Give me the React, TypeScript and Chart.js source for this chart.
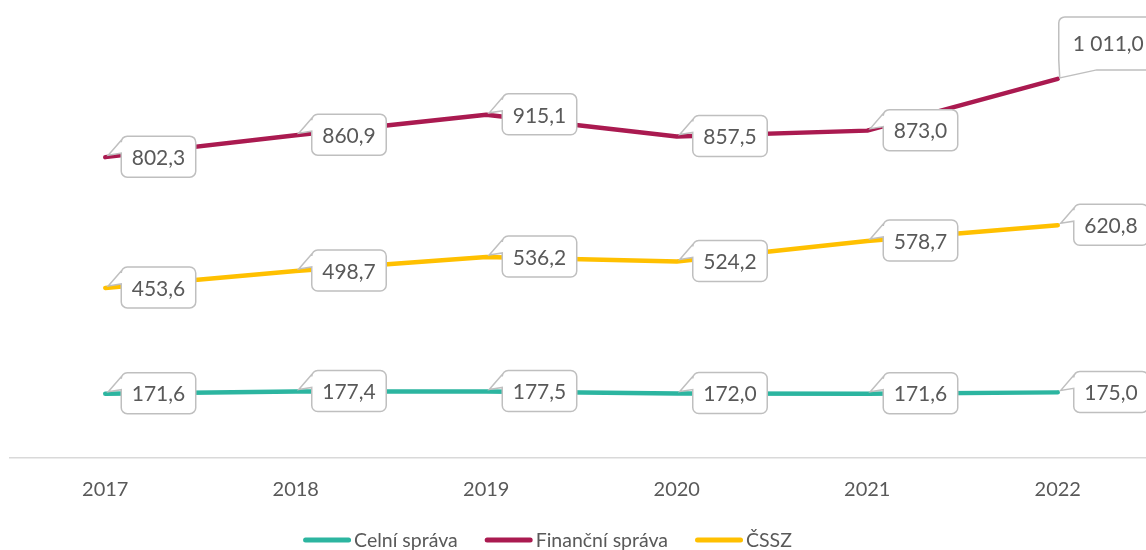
import React, { useEffect, useRef } from "react";
import { Chart, registerables } from "chart.js";

Chart.register(...registerables);

const years = ["2017", "2018", "2019", "2020", "2021", "2022"];
const celniSprava = [171.6, 177.4, 177.5, 172.0, 171.6, 175.0];
const financniSprava = [802.3, 860.9, 915.1, 857.5, 873.0, 1011.0];
const cssz = [453.6, 498.7, 536.2, 524.2, 578.7, 620.8];
const seriesNames = ["Celní správa", "Finanční správa", "ČSSZ"];
const seriesColors = ["#2CB5A0", "#AA1A50", "#FFC000"];

const FONT = "Lato, 'Open Sans', sans-serif";
const TEXT_COLOR = "#595959";

function fmt(v: number): string {
  const fixed = v.toFixed(1);
  const [intPart, dec] = fixed.split(".");
  const withSpaces = intPart.replace(/\B(?=(\d{3})+(?!\d))/g, " ");
  return withSpaces + "," + dec;
}

function calloutLeft(ctx: CanvasRenderingContext2D, l: number, t: number, w: number, h: number, r: number, tipX: number, tipY: number) {
  const rt = l + w, b = t + h;
  ctx.beginPath();
  ctx.moveTo(l + r, t);
  ctx.lineTo(rt - r, t);
  ctx.arcTo(rt, t, rt, t + r, r);
  ctx.lineTo(rt, b - r);
  ctx.arcTo(rt, b, rt - r, b, r);
  ctx.lineTo(l + r, b);
  ctx.arcTo(l, b, l, b - r, r);
  ctx.lineTo(l, t + 17);
  ctx.lineTo(tipX, tipY);
  ctx.lineTo(l, t + 4);
  ctx.arcTo(l, t, l + r, t, r);
  ctx.closePath();
}

function calloutBottom(ctx: CanvasRenderingContext2D, l: number, t: number, w: number, h: number, r: number, tipX: number, tipY: number) {
  const rt = l + w, b = t + h;
  ctx.beginPath();
  ctx.moveTo(l + r, t);
  ctx.lineTo(rt - r, t);
  ctx.arcTo(rt, t, rt, t + r, r);
  ctx.lineTo(rt, b - r);
  ctx.arcTo(rt, b, rt - r, b, r);
  ctx.lineTo(l + 38, b);
  ctx.lineTo(tipX, tipY);
  ctx.lineTo(l, b - 10);
  ctx.lineTo(l, t + r);
  ctx.arcTo(l, t, l + r, t, r);
  ctx.closePath();
}

const calloutPlugin = {
  id: "callouts",
  afterDatasetsDraw(chart: any) {
    const ctx: CanvasRenderingContext2D = chart.ctx;
    ctx.save();
    ctx.font = `21px ${FONT}`;
    chart.data.datasets.forEach((ds: any, di: number) => {
      const meta = chart.getDatasetMeta(di);
      meta.data.forEach((pt: any, i: number) => {
        const x = pt.x, y = pt.y;
        const text = fmt(ds.data[i]);
        const tw = ctx.measureText(text).width;
        const above = di === 1 && i === ds.data.length - 1;
        let l: number, t: number, w: number, h: number, tx: number, ty: number;
        if (above) {
          l = x + 1; t = y - 62; w = tw + 28; h = 53;
          tx = l + 14; ty = y - 36;
          calloutBottom(ctx, l, t, w, h, 6, x + 2, y - 1);
        } else {
          l = x + 16; t = y - 21; w = tw + 21; h = 41;
          tx = l + 10.5; ty = y;
          calloutLeft(ctx, l, t, w, h, 6, x + 3, y - 2);
        }
        ctx.fillStyle = "#FFFFFF";
        ctx.fill();
        ctx.lineWidth = 1.5;
        ctx.strokeStyle = "#BFBFBF";
        ctx.stroke();
        ctx.fillStyle = TEXT_COLOR;
        ctx.textAlign = "left";
        ctx.textBaseline = "middle";
        ctx.fillText(text, tx, ty + 1);
      });
    });
    ctx.restore();
  },
};

const legendPlugin = {
  id: "customLegend",
  afterDraw(chart: any) {
    const ctx: CanvasRenderingContext2D = chart.ctx;
    ctx.save();
    ctx.font = `19.5px ${FONT}`;
    const marker = 48, gap = 3, itemGap = 27;
    const widths = seriesNames.map((n) => marker + gap + ctx.measureText(n).width);
    const total = widths.reduce((a, b) => a + b, 0) + itemGap * (widths.length - 1);
    let x = 539.5 - total / 2;
    const y = 532;
    seriesNames.forEach((n, i) => {
      ctx.beginPath();
      ctx.lineCap = "round";
      ctx.lineWidth = 5;
      ctx.strokeStyle = seriesColors[i];
      ctx.moveTo(x + 2.5, y);
      ctx.lineTo(x + marker - 2.5, y);
      ctx.stroke();
      ctx.fillStyle = TEXT_COLOR;
      ctx.textAlign = "left";
      ctx.textBaseline = "middle";
      ctx.fillText(n, x + marker + gap, y + 1);
      x += widths[i] + itemGap;
    });
    ctx.restore();
  },
};

export default function App() {
  const ref = useRef<HTMLCanvasElement>(null);
  useEffect(() => {
    if (!ref.current) return;
    const seriesData = [celniSprava, financniSprava, cssz];
    const chart = new Chart(ref.current, {
      type: "line",
      data: {
        labels: years,
        datasets: seriesNames.map((name, i) => ({
          label: name,
          data: seriesData[i],
          borderColor: seriesColors[i],
          backgroundColor: seriesColors[i],
          borderWidth: 4.5,
          borderCapStyle: "round" as const,
          borderJoinStyle: "round" as const,
          pointRadius: 0,
          tension: 0,
          fill: false,
        })),
      },
      options: {
        animation: false,
        responsive: true,
        maintainAspectRatio: false,
        layout: { padding: { left: 2, right: 3, top: 0, bottom: 36 } },
        plugins: {
          legend: { display: false },
          tooltip: { enabled: false },
        },
        scales: {
          x: {
            offset: true,
            grid: { display: false },
            border: { display: true, color: "#D9D9D9", width: 1.5 },
            ticks: { color: TEXT_COLOR, font: { family: FONT, size: 20 }, padding: 12 },
          },
          y: {
            display: false,
            min: 0,
            max: 1200,
          },
        },
      },
      plugins: [calloutPlugin, legendPlugin],
    });
    return () => chart.destroy();
  }, []);
  return (
    <div style={{ position: "fixed", left: 8, top: 8, width: 1138, height: 542, overflow: "hidden" }}>
      <div style={{ position: "relative", width: 1148, height: 542 }}>
        <canvas ref={ref} />
      </div>
    </div>
  );
}
